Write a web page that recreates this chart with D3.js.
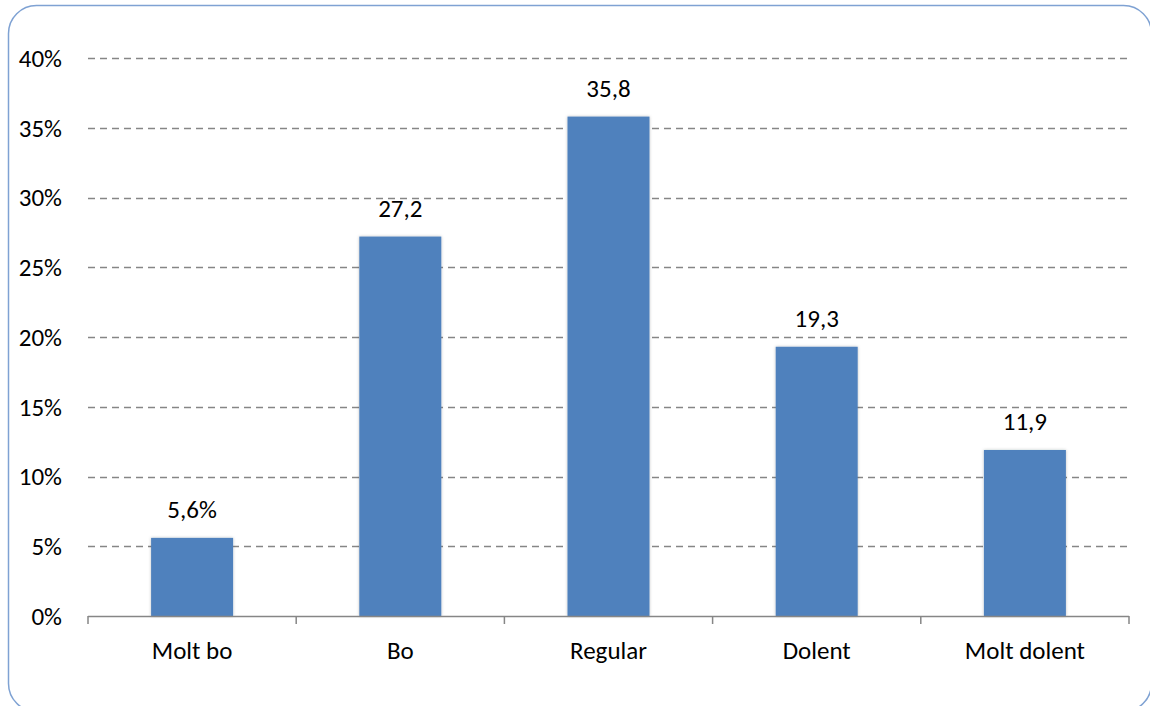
<!DOCTYPE html>
<html><head><meta charset="utf-8">
<script src="https://cdn.jsdelivr.net/npm/d3@7"></script>
<style>body{margin:0;background:#fff}svg{display:block}</style>
</head><body>
<script>
const categories = ["Molt bo", "Bo", "Regular", "Dolent", "Molt dolent"];
const values = [5.6, 27.2, 35.8, 19.3, 11.9];
const valueLabels = ["5,6%", "27,2", "35,8", "19,3", "11,9"];
const yTicks = [0, 5, 10, 15, 20, 25, 30, 35, 40];

const W = 1150, H = 706;
const m = {left: 88, right: 21, top: 58, bottom: 90};
const font = "Carlito, Calibri, 'Open Sans', sans-serif";
const fs = 25;

const svg = d3.select("body").append("svg").attr("width", W).attr("height", H);

svg.append("defs").append("filter").attr("id", "sh")
  .attr("x", "-10%").attr("y", "-10%").attr("width", "120%").attr("height", "120%")
  .append("feDropShadow").attr("dx", 0).attr("dy", 0).attr("stdDeviation", 1.5)
  .attr("flood-color", "#000").attr("flood-opacity", 0.25);

svg.append("rect").attr("x", 8.5).attr("y", 5.5).attr("width", 1143).attr("height", 706)
  .attr("rx", 28).attr("fill", "#fff").attr("stroke", "#7FA2D3").attr("stroke-width", 1.5);

const xb = d3.scaleBand().domain(categories).range([m.left, W - m.right]);
const y = d3.scaleLinear().domain([0, 40]).range([H - m.bottom, m.top]);

// gridlines
svg.append("g").selectAll("line").data(yTicks.filter(d => d > 0)).join("line")
  .attr("x1", m.left).attr("x2", W - m.right)
  .attr("y1", d => Math.round(y(d)) + 0.5).attr("y2", d => Math.round(y(d)) + 0.5)
  .attr("stroke", "#868686").attr("stroke-width", 1.3).attr("stroke-dasharray", "7,5");

// y labels
svg.append("g").selectAll("text").data(yTicks).join("text")
  .attr("x", 62).attr("y", d => y(d)).attr("dy", "0.35em").attr("text-anchor", "end")
  .attr("font-family", font).attr("font-size", fs).attr("fill", "#000")
  .text(d => d + "%");

// bars
const bw = 82;
svg.append("g").selectAll("rect").data(values).join("rect")
  .attr("x", (d, i) => xb(categories[i]) + xb.bandwidth() / 2 - bw / 2)
  .attr("y", d => y(d)).attr("width", bw).attr("height", d => y(0) - y(d))
  .attr("fill", "#4F81BD").attr("filter", "url(#sh)");

// value labels
svg.append("g").selectAll("text").data(values).join("text")
  .attr("x", (d, i) => xb(categories[i]) + xb.bandwidth() / 2)
  .attr("y", d => y(d) - 20).attr("text-anchor", "middle")
  .attr("font-family", font).attr("font-size", fs).attr("fill", "#000")
  .text((d, i) => valueLabels[i]);

// x axis
const ax = svg.append("g").attr("transform", `translate(0,${y(0)})`);
ax.append("line").attr("x1", m.left).attr("x2", W - m.right).attr("y1", 0.5).attr("y2", 0.5)
  .attr("stroke", "#868686").attr("stroke-width", 1.5);
const edges = categories.map(c => xb(c)).concat([W - m.right]);
ax.selectAll("line.t").data(edges).join("line").attr("class", "t")
  .attr("x1", d => d).attr("x2", d => d).attr("y1", 0).attr("y2", 8)
  .attr("stroke", "#868686").attr("stroke-width", 1.5);
ax.selectAll("text").data(categories).join("text")
  .attr("x", d => xb(d) + xb.bandwidth() / 2).attr("y", 43).attr("text-anchor", "middle")
  .attr("font-family", font).attr("font-size", fs).attr("fill", "#000").text(d => d);
</script>
</body></html>
